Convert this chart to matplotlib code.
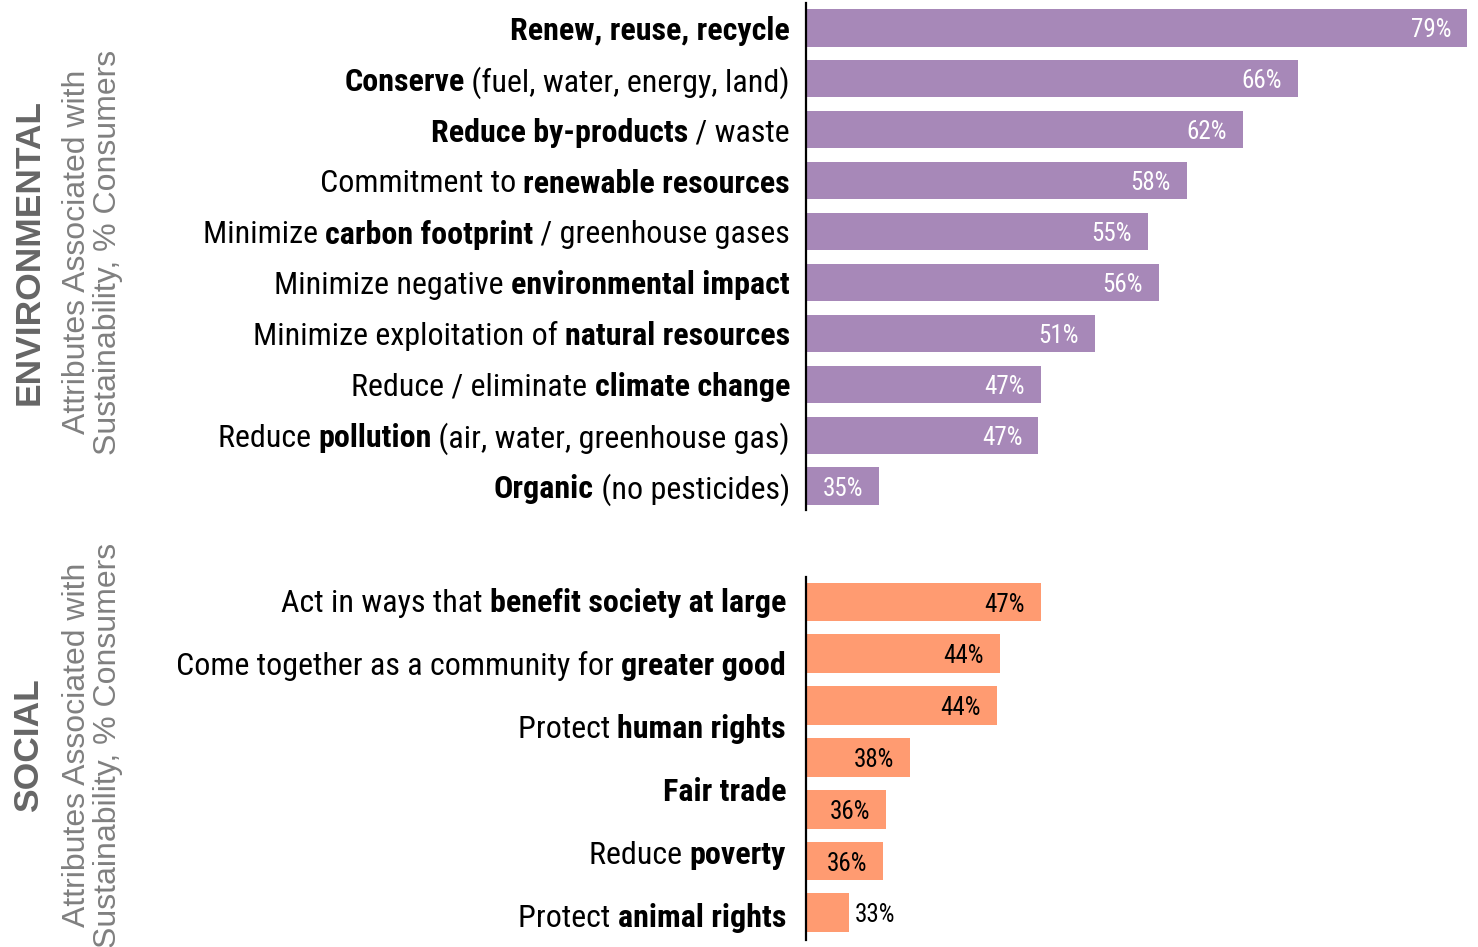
import matplotlib
matplotlib.use("Agg")
import matplotlib.pyplot as plt
from matplotlib import font_manager, transforms

# condensed face for the labels, whatever is around
available = {f.name for f in font_manager.fontManager.ttflist}
cond = "Roboto"
for cand in ["Roboto Condensed", "Liberation Sans Narrow", "Roboto"]:
    if cand in available:
        cond = cand
        break

# ---- data (bold parts between **) ----
env_labels = [
    "**Renew, reuse, recycle**",
    "**Conserve** (fuel, water, energy, land)",
    "**Reduce by-products** / waste",
    "Commitment to **renewable resources**",
    "Minimize **carbon footprint** / greenhouse gases",
    "Minimize negative **environmental impact**",
    "Minimize exploitation of **natural resources**",
    "Reduce / eliminate **climate change**",
    "Reduce **pollution** (air, water, greenhouse gas)",
    "**Organic** (no pesticides)",
]
env_values = [79.0, 66.3, 62.2, 58.0, 55.1, 55.9, 51.1, 47.1, 46.9, 35.0]
env_pct = [79, 66, 62, 58, 55, 56, 51, 47, 47, 35]

soc_labels = [
    "Act in ways that **benefit society at large**",
    "Come together as a community for **greater good**",
    "Protect **human rights**",
    "**Fair trade**",
    "Reduce **poverty**",
    "Protect **animal rights**",
]
soc_values = [47.1, 44.0, 43.8, 37.3, 35.5, 35.3, 32.7]
soc_pct = [47, 44, 44, 38, 36, 36, 33]

purple = "#a788b8"
orange = "#ff9b71"
x0 = 29.5      # the bars do not start at zero in the original
x1 = 79.8

W, H = 1478, 947
fig = plt.figure(figsize=(W / 100, H / 100), dpi=100)
renderer = fig.canvas.get_renderer()


def px_axes(left, top, right, bottom):
    return fig.add_axes([left / W, 1 - bottom / H, (right - left) / W, (bottom - top) / H])


def rich_label(ax, y, markup, pad, size=23):
    parts = markup.split("**")
    segs = [(p, i % 2 == 1) for i, p in enumerate(parts) if p]
    base = transforms.blended_transform_factory(ax.transAxes, ax.transData)
    off = pad
    for text, bold in reversed(segs):
        tr = transforms.offset_copy(base, fig=fig, x=-off, y=0, units="dots")
        t = ax.text(0, y, text, transform=tr, ha="right", va="center_baseline",
                    fontsize=size, fontweight="bold" if bold else "normal",
                    family=cond, color="black", clip_on=False)
        off += t.get_window_extent(renderer).width


def style(ax, ylim):
    ax.set_xlim(x0, x1)
    ax.set_ylim(*ylim)
    for s in ["top", "right", "bottom"]:
        ax.spines[s].set_visible(False)
    ax.spines["left"].set_linewidth(1.6)
    ax.set_xticks([])
    ax.set_yticks([])


def value_label(ax, v, y, txt, color):
    if v - x0 < 5:
        ax.annotate(txt, (v, y), xytext=(4.5, 0), textcoords="offset points",
                    ha="left", va="center_baseline", fontsize=18, family=cond, color=color)
    else:
        ax.annotate(txt, (v, y), xytext=(-11.5, 0), textcoords="offset points",
                    ha="right", va="center_baseline", fontsize=18, family=cond, color=color)


# ---- environmental ----
ax1 = px_axes(806, 3, W, 510)
ys = list(range(len(env_values)))
ax1.barh(ys, [v - x0 for v in env_values], left=x0, height=0.73, color=purple)
style(ax1, (9.47, -0.49))
for y, lab in zip(ys, env_labels):
    rich_label(ax1, y, lab, pad=16)
for y, v, p in zip(ys, env_values, env_pct):
    value_label(ax1, v, y, f"{p}%", "white")

# ---- social ----
ax2 = px_axes(806, 577, W, 940)
ys2 = list(range(len(soc_values)))
ax2.barh(ys2, [v - x0 for v in soc_values], left=x0, height=0.75, color=orange)
style(ax2, (6.525, -0.483))
step = 1.216   # the labels sit on a wider spacing than the bars
for i, lab in enumerate(soc_labels):
    rich_label(ax2, i * step - 0.03, lab, pad=20)
for y, v, p in zip(ys2, soc_values, soc_pct):
    value_label(ax2, v, y, f"{p}%", "black")

# ---- side titles ----
side = dict(rotation=90, ha="center", va="center", family="Liberation Sans")
for yc, name in [(252, "ENVIRONMENTAL"), (745, "SOCIAL")]:
    fig.text(29 / W, 1 - yc / H, name, fontsize=25.5, fontweight="bold", color="#666666", **side)
    fig.text(77 / W, 1 - yc / H, "Attributes Associated with", fontsize=23, color="#808080", **side)
    fig.text(108 / W, 1 - yc / H, "Sustainability, % Consumers", fontsize=23, color="#808080", **side)

fig.savefig("out.png", dpi=100)
